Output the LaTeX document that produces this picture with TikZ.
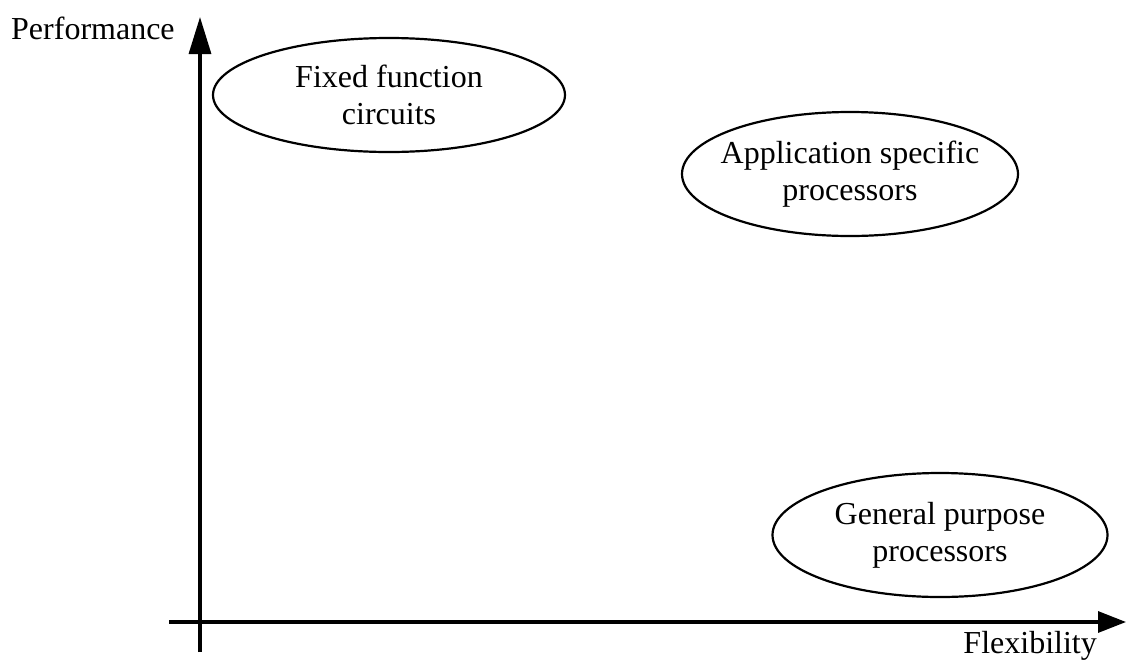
\documentclass[tikz,border=0pt]{standalone}
\usepackage{fontspec}
\setmainfont{Liberation Serif}
\usetikzlibrary{arrows.meta,shapes.geometric}
\begin{document}
\begin{tikzpicture}[x=1pt,y=-1pt,
  axis/.style={line width=3.2pt},
  blob/.style={ellipse,draw,line width=2.2pt,inner sep=0pt},
  blobtext/.style={inner sep=0pt,align=center,font=\fontsize{32}{37}\selectfont},
  lbl/.style={inner sep=0pt,font=\fontsize{32}{37}\selectfont}]
\useasboundingbox (0,0) rectangle (1128,662);
% axes
\coordinate (ybot) at (200,652);
\coordinate (ytop) at (200,17);
\coordinate (xleft) at (169,622);
\coordinate (xright) at (1126,622);
\draw[axis,-{Triangle[length=37pt,width=22pt]}] (ybot) -- (ytop);
\draw[axis,-{Triangle[length=28pt,width=21pt]}] (xleft) -- (xright);
% axis labels
\node[lbl,anchor=base west] (perf) at (11,39) {Performance};
\node[lbl,anchor=base east] (flex) at (1097,653) {Flexibility};
% regions: fixed-size outlines with their captions centred inside
\node[blob,minimum width=352pt,minimum height=114pt] (ffc) at (389,95) {};
\node[blobtext] (ffct) at (ffc.center) {Fixed function\\circuits};
\node[blob,minimum width=336pt,minimum height=124pt] (asp) at (850,174) {};
\node[blobtext] (aspt) at (asp.center) {Application specific\\processors};
\node[blob,minimum width=335pt,minimum height=124pt] (gpp) at (940,535) {};
\node[blobtext] (gppt) at (gpp.center) {General purpose\\processors};
\end{tikzpicture}
\end{document}
